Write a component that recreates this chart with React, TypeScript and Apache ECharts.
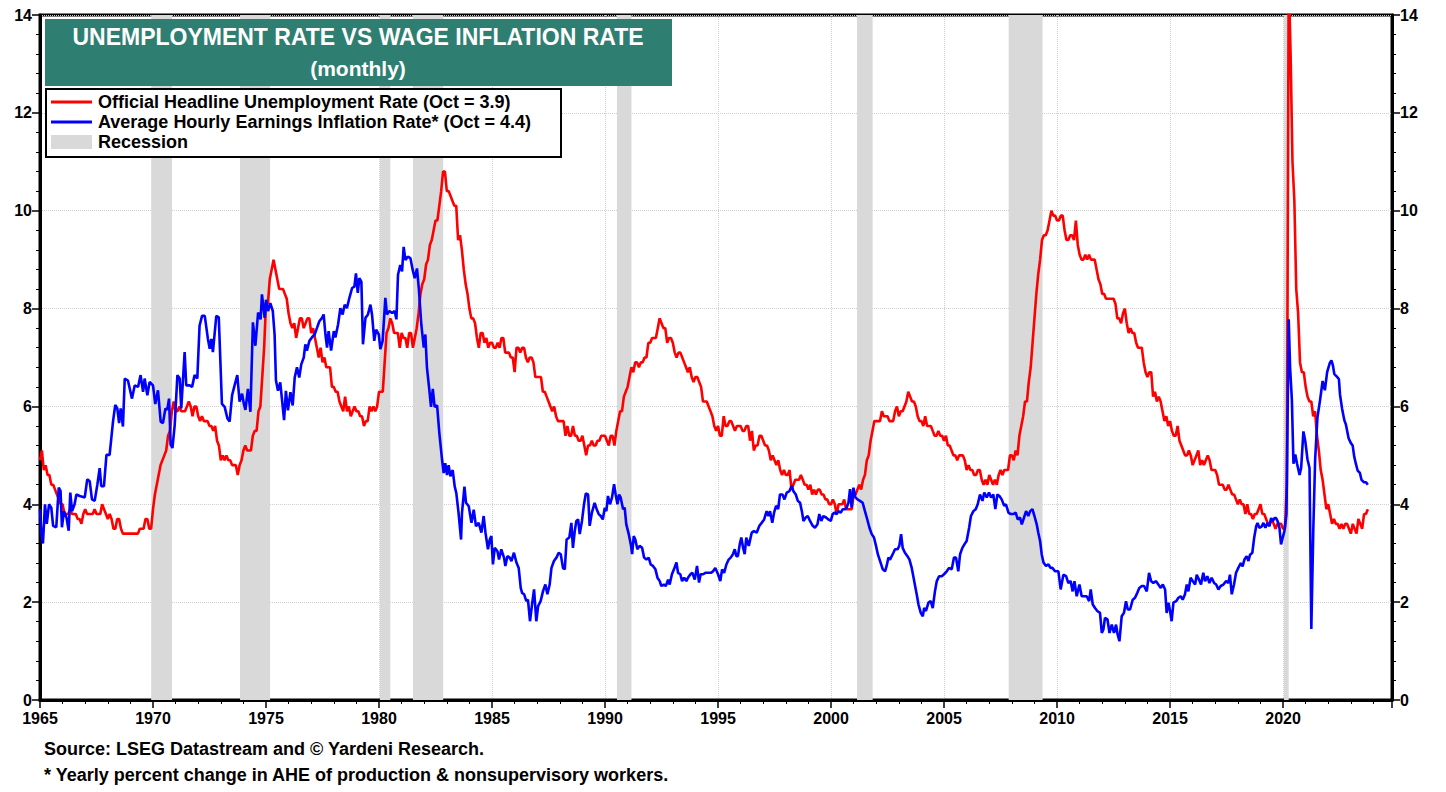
import React, { useEffect, useRef } from "react";
import * as echarts from "echarts";

// Official headline unemployment rate, monthly from Jan 1965 to Oct 2023 (%)
const UNEMP: number[] = [
  4.9, 5.1, 4.7, 4.8, 4.6, 4.6, 4.4, 4.4, 4.3, 4.2, 4.1, 4.0,
  4.0, 3.8, 3.8, 3.8, 3.9, 3.8, 3.8, 3.8, 3.7, 3.7, 3.6, 3.8,
  3.9, 3.8, 3.8, 3.8, 3.8, 3.9, 3.8, 3.8, 3.8, 4.0, 3.9, 3.8,
  3.7, 3.8, 3.7, 3.5, 3.5, 3.7, 3.7, 3.5, 3.4, 3.4, 3.4, 3.4,
  3.4, 3.4, 3.4, 3.4, 3.4, 3.5, 3.5, 3.5, 3.7, 3.7, 3.5, 3.5,
  3.9, 4.2, 4.4, 4.6, 4.8, 4.9, 5.0, 5.1, 5.4, 5.5, 5.9, 6.1,
  5.9, 5.9, 6.0, 5.9, 5.9, 5.9, 6.0, 6.1, 6.0, 5.8, 6.0, 6.0,
  5.8, 5.7, 5.8, 5.7, 5.7, 5.7, 5.6, 5.6, 5.5, 5.6, 5.3, 5.2,
  4.9, 5.0, 4.9, 5.0, 4.9, 4.9, 4.8, 4.8, 4.8, 4.6, 4.8, 4.9,
  5.1, 5.2, 5.1, 5.1, 5.1, 5.4, 5.5, 5.5, 5.9, 6.0, 6.6, 7.2,
  8.1, 8.1, 8.6, 8.8, 9.0, 8.8, 8.6, 8.4, 8.4, 8.4, 8.3, 8.2,
  7.9, 7.7, 7.6, 7.7, 7.4, 7.6, 7.8, 7.8, 7.6, 7.7, 7.8, 7.8,
  7.5, 7.6, 7.4, 7.2, 7.0, 7.2, 6.9, 7.0, 6.8, 6.8, 6.8, 6.4,
  6.4, 6.3, 6.3, 6.1, 6.0, 5.9, 6.2, 5.9, 6.0, 5.8, 5.9, 6.0,
  5.9, 5.9, 5.8, 5.8, 5.6, 5.7, 5.7, 6.0, 5.9, 6.0, 5.9, 6.0,
  6.3, 6.3, 6.3, 6.9, 7.5, 7.6, 7.8, 7.7, 7.5, 7.5, 7.5, 7.2,
  7.5, 7.4, 7.4, 7.2, 7.5, 7.5, 7.2, 7.4, 7.6, 7.9, 8.3, 8.5,
  8.6, 8.9, 9.0, 9.3, 9.4, 9.6, 9.8, 9.8, 10.1, 10.4, 10.8, 10.8,
  10.4, 10.4, 10.3, 10.2, 10.1, 10.1, 9.4, 9.5, 9.2, 8.8, 8.5, 8.3,
  8.0, 7.8, 7.8, 7.7, 7.4, 7.2, 7.5, 7.5, 7.3, 7.4, 7.2, 7.3,
  7.3, 7.2, 7.2, 7.3, 7.2, 7.4, 7.4, 7.1, 7.1, 7.1, 7.0, 7.0,
  6.7, 7.2, 7.2, 7.1, 7.2, 7.2, 7.0, 6.9, 7.0, 7.0, 6.9, 6.6,
  6.6, 6.6, 6.6, 6.3, 6.3, 6.2, 6.1, 6.0, 5.9, 6.0, 5.8, 5.7,
  5.7, 5.7, 5.7, 5.4, 5.6, 5.4, 5.4, 5.6, 5.4, 5.4, 5.3, 5.3,
  5.4, 5.2, 5.0, 5.2, 5.2, 5.3, 5.2, 5.2, 5.3, 5.3, 5.4, 5.4,
  5.4, 5.3, 5.2, 5.4, 5.4, 5.2, 5.5, 5.7, 5.9, 5.9, 6.2, 6.3,
  6.4, 6.6, 6.8, 6.7, 6.9, 6.9, 6.8, 6.9, 6.9, 7.0, 7.0, 7.3,
  7.3, 7.4, 7.4, 7.4, 7.6, 7.8, 7.7, 7.6, 7.6, 7.3, 7.4, 7.4,
  7.3, 7.1, 7.0, 7.1, 7.1, 7.0, 6.9, 6.8, 6.7, 6.8, 6.6, 6.5,
  6.6, 6.6, 6.5, 6.4, 6.1, 6.1, 6.1, 6.0, 5.9, 5.8, 5.6, 5.5,
  5.6, 5.4, 5.4, 5.8, 5.6, 5.6, 5.7, 5.7, 5.6, 5.5, 5.6, 5.6,
  5.6, 5.5, 5.5, 5.6, 5.6, 5.3, 5.5, 5.1, 5.2, 5.2, 5.4, 5.4,
  5.3, 5.2, 5.2, 5.1, 4.9, 5.0, 4.9, 4.8, 4.9, 4.7, 4.6, 4.7,
  4.6, 4.6, 4.7, 4.3, 4.4, 4.5, 4.5, 4.5, 4.6, 4.5, 4.4, 4.4,
  4.3, 4.4, 4.2, 4.3, 4.2, 4.3, 4.3, 4.2, 4.2, 4.1, 4.1, 4.0,
  4.0, 4.1, 4.0, 3.8, 4.0, 4.0, 4.0, 4.1, 3.9, 3.9, 3.9, 3.9,
  4.2, 4.2, 4.3, 4.4, 4.3, 4.5, 4.6, 4.9, 5.0, 5.3, 5.5, 5.7,
  5.7, 5.7, 5.7, 5.9, 5.8, 5.8, 5.8, 5.7, 5.7, 5.7, 5.9, 6.0,
  5.8, 5.9, 5.9, 6.0, 6.1, 6.3, 6.2, 6.1, 6.1, 6.0, 5.8, 5.7,
  5.7, 5.6, 5.8, 5.6, 5.6, 5.6, 5.5, 5.4, 5.4, 5.5, 5.4, 5.4,
  5.3, 5.4, 5.2, 5.2, 5.1, 5.0, 5.0, 4.9, 5.0, 5.0, 5.0, 4.9,
  4.7, 4.8, 4.7, 4.7, 4.6, 4.6, 4.7, 4.7, 4.5, 4.4, 4.5, 4.4,
  4.6, 4.5, 4.4, 4.5, 4.4, 4.6, 4.7, 4.6, 4.7, 4.7, 4.7, 5.0,
  5.0, 4.9, 5.1, 5.0, 5.4, 5.6, 5.8, 6.1, 6.1, 6.5, 6.8, 7.3,
  7.8, 8.3, 8.7, 9.0, 9.4, 9.5, 9.5, 9.6, 9.8, 10.0, 9.9, 9.9,
  9.8, 9.8, 9.9, 9.9, 9.6, 9.4, 9.4, 9.5, 9.5, 9.4, 9.8, 9.3,
  9.1, 9.0, 9.0, 9.1, 9.0, 9.1, 9.0, 9.0, 9.0, 8.8, 8.6, 8.5,
  8.3, 8.3, 8.2, 8.2, 8.2, 8.2, 8.2, 8.1, 7.8, 7.8, 7.7, 7.9,
  8.0, 7.7, 7.5, 7.6, 7.5, 7.5, 7.3, 7.2, 7.2, 7.2, 6.9, 6.7,
  6.6, 6.7, 6.7, 6.2, 6.3, 6.1, 6.2, 6.1, 5.9, 5.7, 5.8, 5.6,
  5.7, 5.5, 5.4, 5.4, 5.6, 5.3, 5.2, 5.1, 5.0, 5.0, 5.1, 5.0,
  4.8, 4.9, 5.0, 5.1, 4.8, 4.9, 4.8, 4.9, 5.0, 4.9, 4.7, 4.7,
  4.7, 4.6, 4.4, 4.4, 4.4, 4.3, 4.3, 4.4, 4.3, 4.2, 4.2, 4.1,
  4.0, 4.1, 4.0, 4.0, 3.8, 4.0, 3.8, 3.8, 3.7, 3.8, 3.8, 3.9,
  4.0, 3.8, 3.8, 3.7, 3.6, 3.6, 3.7, 3.6, 3.5, 3.6, 3.6, 3.6,
  3.5, 3.5, 4.4, 14.8, 13.2, 11.0, 10.2, 8.4, 7.9, 6.9, 6.7, 6.7,
  6.4, 6.2, 6.1, 6.1, 5.8, 5.9, 5.4, 5.1, 4.7, 4.5, 4.2, 3.9,
  4.0, 3.8, 3.6, 3.7, 3.6, 3.6, 3.5, 3.6, 3.5, 3.6, 3.6, 3.5,
  3.4, 3.6, 3.5, 3.4, 3.7, 3.6, 3.5, 3.8, 3.8, 3.9,
];
const UNEMP_START_YEAR = 1965;

// Average hourly earnings inflation rate (yearly % change), [decimal year, %]
const AHE_POINTS: [number, number][] = [
  [1965.0, 3.9], [1965.06, 3.4], [1965.13, 3.2], [1965.22, 4.0], [1965.3, 3.6], [1965.4, 4.0],
  [1965.5, 3.93], [1965.58, 3.56], [1965.72, 3.53], [1965.83, 4.34], [1965.91, 4.27], [1965.97, 3.53],
  [1966.06, 3.86], [1966.17, 3.73], [1966.27, 3.46], [1966.34, 4.24], [1966.42, 3.86], [1966.53, 4.0],
  [1966.61, 4.2], [1966.76, 4.17], [1966.98, 4.14], [1967.09, 4.51], [1967.2, 4.47], [1967.3, 4.1],
  [1967.42, 4.07], [1967.54, 4.41], [1967.64, 4.74], [1967.71, 4.37], [1967.83, 4.37], [1967.94, 5.01],
  [1968.08, 5.01], [1968.23, 5.69], [1968.33, 6.03], [1968.42, 5.96], [1968.5, 5.66], [1968.57, 5.96],
  [1968.67, 5.59], [1968.75, 6.57], [1968.89, 6.53], [1969.07, 6.16], [1969.19, 6.43], [1969.34, 6.4],
  [1969.45, 6.64], [1969.56, 6.3], [1969.63, 6.57], [1969.75, 6.23], [1969.85, 6.5], [1970.0, 6.43],
  [1970.1, 6.05], [1970.22, 6.33], [1970.34, 5.69], [1970.44, 5.66], [1970.55, 5.96], [1970.63, 5.93],
  [1970.71, 6.16], [1970.78, 5.22], [1970.86, 5.15], [1970.96, 5.62], [1971.08, 6.64], [1971.18, 6.57],
  [1971.25, 5.96], [1971.4, 7.11], [1971.47, 6.43], [1971.62, 6.43], [1971.73, 6.4], [1971.84, 6.64],
  [1971.96, 6.57], [1972.06, 7.65], [1972.17, 7.85], [1972.29, 7.85], [1972.43, 7.38], [1972.51, 7.18],
  [1972.58, 7.38], [1972.65, 7.11], [1972.8, 7.85], [1972.91, 7.82], [1973.05, 6.05], [1973.17, 5.99],
  [1973.29, 5.76], [1973.39, 5.69], [1973.5, 6.23], [1973.61, 6.43], [1973.73, 6.64], [1973.83, 6.1],
  [1973.94, 6.26], [1974.03, 6.03], [1974.09, 5.93], [1974.2, 6.36], [1974.31, 5.89], [1974.42, 7.72],
  [1974.53, 7.24], [1974.65, 7.92], [1974.76, 7.78], [1974.82, 8.29], [1974.94, 7.81], [1975.0, 8.18],
  [1975.09, 7.95], [1975.19, 8.11], [1975.3, 7.95], [1975.38, 7.47], [1975.44, 6.53], [1975.53, 6.32],
  [1975.63, 6.49], [1975.74, 5.99], [1975.8, 5.72], [1975.88, 6.32], [1975.97, 5.92], [1976.08, 6.29],
  [1976.18, 6.02], [1976.27, 6.59], [1976.37, 6.8], [1976.47, 6.59], [1976.56, 6.86], [1976.67, 7.0],
  [1976.74, 7.27], [1976.81, 7.14], [1976.92, 7.34], [1977.03, 7.41], [1977.15, 7.47], [1977.26, 7.61],
  [1977.36, 7.74], [1977.48, 7.81], [1977.55, 7.88], [1977.63, 7.47], [1977.7, 7.2], [1977.77, 7.54],
  [1977.88, 7.14], [1978.0, 7.54], [1978.07, 7.41], [1978.19, 7.68], [1978.29, 8.01], [1978.39, 7.88],
  [1978.48, 8.08], [1978.58, 8.01], [1978.69, 8.22], [1978.81, 8.42], [1978.91, 8.45], [1978.98, 8.72],
  [1979.06, 8.32], [1979.13, 8.62], [1979.22, 8.55], [1979.29, 7.27], [1979.4, 7.81], [1979.51, 7.88],
  [1979.62, 8.08], [1979.69, 7.88], [1979.79, 7.34], [1979.87, 7.57], [1979.99, 7.47], [1980.06, 7.17],
  [1980.16, 7.34], [1980.28, 8.22], [1980.35, 7.88], [1980.46, 7.95], [1980.58, 7.91], [1980.69, 7.95],
  [1980.77, 7.78], [1980.84, 8.69], [1980.94, 8.89], [1981.02, 8.76], [1981.09, 9.26], [1981.17, 8.99],
  [1981.27, 9.06], [1981.39, 9.03], [1981.49, 8.79], [1981.58, 8.62], [1981.68, 8.82], [1981.76, 8.42],
  [1981.87, 7.68], [1981.98, 7.2], [1982.05, 7.47], [1982.12, 6.8], [1982.23, 6.32], [1982.3, 5.99],
  [1982.38, 6.36], [1982.46, 5.99], [1982.57, 6.02], [1982.67, 5.45], [1982.79, 4.91], [1982.86, 4.64],
  [1982.93, 4.84], [1983.01, 4.6], [1983.08, 4.8], [1983.16, 4.57], [1983.26, 4.7], [1983.35, 4.36],
  [1983.42, 4.23], [1983.52, 3.82], [1983.63, 3.28], [1983.67, 3.82], [1983.78, 4.36], [1983.85, 4.03],
  [1983.97, 3.96], [1984.09, 3.62], [1984.19, 3.89], [1984.29, 3.55], [1984.41, 3.62], [1984.53, 3.42],
  [1984.63, 3.76], [1984.71, 3.42], [1984.82, 3.08], [1984.9, 3.28], [1984.97, 3.35], [1985.04, 2.77],
  [1985.12, 3.11], [1985.24, 3.04], [1985.31, 2.87], [1985.41, 3.08], [1985.53, 2.91], [1985.59, 2.74],
  [1985.68, 2.94], [1985.78, 2.91], [1985.86, 2.84], [1985.97, 3.01], [1986.08, 2.81], [1986.18, 2.7],
  [1986.27, 2.29], [1986.33, 2.19], [1986.42, 2.16], [1986.52, 2.02], [1986.59, 2.05], [1986.68, 1.61],
  [1986.77, 1.95], [1986.86, 2.26], [1986.96, 1.61], [1987.04, 1.92], [1987.15, 2.02], [1987.26, 2.23],
  [1987.36, 2.36], [1987.45, 2.16], [1987.55, 2.36], [1987.63, 2.7], [1987.74, 2.84], [1987.85, 2.91],
  [1987.95, 3.01], [1988.04, 2.98], [1988.14, 2.7], [1988.22, 2.67], [1988.3, 3.28], [1988.42, 3.32],
  [1988.51, 3.62], [1988.58, 3.11], [1988.66, 3.45], [1988.73, 3.66], [1988.81, 3.69], [1988.88, 3.39],
  [1988.98, 3.66], [1989.07, 4.0], [1989.15, 4.22], [1989.25, 4.2], [1989.32, 3.56], [1989.42, 3.83],
  [1989.54, 4.03], [1989.63, 3.9], [1989.72, 3.8], [1989.81, 3.76], [1989.9, 3.69], [1989.99, 3.93],
  [1990.06, 3.86], [1990.13, 4.17], [1990.22, 4.0], [1990.31, 4.14], [1990.4, 4.41], [1990.47, 4.2],
  [1990.55, 4.0], [1990.62, 4.2], [1990.69, 4.14], [1990.8, 3.9], [1990.87, 3.93], [1990.94, 3.59],
  [1991.05, 3.39], [1991.14, 3.18], [1991.2, 2.98], [1991.27, 3.35], [1991.34, 3.28], [1991.43, 3.08],
  [1991.53, 3.15], [1991.64, 3.11], [1991.73, 2.91], [1991.83, 2.87], [1991.93, 2.91], [1992.02, 2.77],
  [1992.12, 2.74], [1992.23, 2.67], [1992.32, 2.5], [1992.42, 2.43], [1992.49, 2.33], [1992.6, 2.36],
  [1992.69, 2.33], [1992.79, 2.46], [1992.86, 2.36], [1992.96, 2.57], [1993.05, 2.67], [1993.16, 2.81],
  [1993.23, 2.6], [1993.33, 2.57], [1993.41, 2.43], [1993.5, 2.5], [1993.6, 2.43], [1993.67, 2.5],
  [1993.78, 2.57], [1993.86, 2.6], [1993.97, 2.46], [1994.07, 2.74], [1994.16, 2.4], [1994.23, 2.57],
  [1994.34, 2.57], [1994.44, 2.6], [1994.56, 2.6], [1994.68, 2.6], [1994.78, 2.63], [1994.88, 2.7],
  [1995.0, 2.57], [1995.1, 2.43], [1995.18, 2.67], [1995.27, 2.6], [1995.37, 2.77], [1995.47, 2.87],
  [1995.56, 2.91], [1995.66, 2.98], [1995.74, 3.08], [1995.81, 2.94], [1995.88, 2.94], [1995.96, 3.18],
  [1996.03, 3.32], [1996.11, 3.11], [1996.18, 2.98], [1996.25, 3.32], [1996.36, 3.15], [1996.49, 3.42],
  [1996.59, 3.45], [1996.71, 3.42], [1996.83, 3.56], [1996.93, 3.62], [1997.04, 3.69], [1997.15, 3.86],
  [1997.23, 3.76], [1997.3, 3.86], [1997.4, 3.62], [1997.48, 3.83], [1997.57, 3.97], [1997.66, 3.9],
  [1997.74, 4.2], [1997.85, 4.2], [1997.94, 4.1], [1998.04, 4.24], [1998.16, 4.27], [1998.26, 4.38],
  [1998.33, 4.27], [1998.44, 4.2], [1998.53, 4.07], [1998.63, 4.03], [1998.72, 3.83], [1998.78, 3.66],
  [1998.88, 3.73], [1998.97, 3.76], [1999.07, 3.66], [1999.19, 3.56], [1999.29, 3.52], [1999.4, 3.59],
  [1999.48, 3.8], [1999.57, 3.66], [1999.66, 3.76], [1999.78, 3.73], [1999.88, 3.69], [1999.99, 3.66],
  [2000.07, 3.8], [2000.16, 3.83], [2000.25, 3.8], [2000.32, 3.86], [2000.43, 3.83], [2000.52, 3.9],
  [2000.62, 3.9], [2000.69, 3.93], [2000.77, 4.03], [2000.84, 4.31], [2000.91, 3.93], [2000.99, 4.34],
  [2001.08, 4.14], [2001.17, 4.1], [2001.28, 4.07], [2001.4, 4.03], [2001.5, 3.86], [2001.58, 3.73],
  [2001.7, 3.52], [2001.8, 3.39], [2001.9, 3.32], [2001.99, 3.15], [2002.07, 2.98], [2002.17, 2.84],
  [2002.29, 2.67], [2002.39, 2.63], [2002.46, 2.74], [2002.54, 2.91], [2002.61, 2.87], [2002.73, 2.98],
  [2002.83, 3.08], [2002.94, 3.08], [2003.02, 3.15], [2003.1, 3.39], [2003.17, 3.11], [2003.27, 3.01],
  [2003.38, 2.94], [2003.47, 2.87], [2003.57, 2.7], [2003.64, 2.53], [2003.72, 2.33], [2003.79, 2.16],
  [2003.87, 1.95], [2003.97, 1.78], [2004.06, 1.71], [2004.12, 1.88], [2004.2, 1.82], [2004.31, 1.99],
  [2004.41, 2.02], [2004.5, 1.88], [2004.6, 2.23], [2004.68, 2.43], [2004.78, 2.53], [2004.9, 2.53],
  [2005.0, 2.57], [2005.12, 2.63], [2005.22, 2.7], [2005.34, 2.67], [2005.44, 2.91], [2005.53, 2.91],
  [2005.63, 2.63], [2005.71, 2.98], [2005.81, 3.11], [2005.9, 3.18], [2006.0, 3.25], [2006.11, 3.52],
  [2006.19, 3.76], [2006.3, 3.86], [2006.4, 3.9], [2006.49, 4.0], [2006.59, 4.2], [2006.7, 4.07],
  [2006.78, 4.24], [2006.89, 4.14], [2006.99, 4.24], [2007.08, 4.14], [2007.18, 4.2], [2007.27, 3.9],
  [2007.36, 4.2], [2007.45, 4.17], [2007.55, 4.1], [2007.66, 3.97], [2007.74, 4.0], [2007.85, 3.83],
  [2007.95, 3.8], [2008.07, 3.8], [2008.17, 3.83], [2008.26, 3.69], [2008.36, 3.73], [2008.44, 3.59],
  [2008.54, 3.73], [2008.63, 3.86], [2008.73, 3.76], [2008.81, 3.86], [2008.91, 3.9], [2009.0, 3.76],
  [2009.1, 3.59], [2009.17, 3.42], [2009.25, 3.25], [2009.32, 2.98], [2009.4, 2.81], [2009.51, 2.74],
  [2009.62, 2.77], [2009.71, 2.7], [2009.8, 2.7], [2009.91, 2.63], [2010.06, 2.63], [2010.16, 2.26],
  [2010.28, 2.56], [2010.4, 2.53], [2010.5, 2.39], [2010.6, 2.43], [2010.69, 2.22], [2010.77, 2.43],
  [2010.87, 2.12], [2010.99, 2.36], [2011.09, 2.12], [2011.19, 2.12], [2011.31, 2.12], [2011.42, 2.02],
  [2011.49, 2.26], [2011.58, 1.95], [2011.68, 1.88], [2011.78, 1.82], [2011.9, 1.78], [2011.98, 1.37],
  [2012.05, 1.44], [2012.12, 1.68], [2012.23, 1.65], [2012.32, 1.37], [2012.42, 1.54], [2012.52, 1.37],
  [2012.61, 1.54], [2012.68, 1.34], [2012.76, 1.2], [2012.86, 1.71], [2012.96, 1.78], [2013.05, 2.02],
  [2013.13, 1.85], [2013.23, 1.85], [2013.35, 2.05], [2013.45, 2.09], [2013.55, 2.19], [2013.64, 2.29],
  [2013.75, 2.33], [2013.85, 2.33], [2013.97, 2.22], [2014.07, 2.6], [2014.16, 2.43], [2014.26, 2.39],
  [2014.38, 2.43], [2014.48, 2.36], [2014.59, 2.29], [2014.68, 2.36], [2014.78, 2.26], [2014.85, 1.78],
  [2014.93, 1.99], [2015.0, 1.82], [2015.07, 1.61], [2015.15, 1.99], [2015.27, 2.02], [2015.37, 2.09],
  [2015.47, 2.12], [2015.56, 2.05], [2015.66, 2.16], [2015.74, 2.36], [2015.81, 2.22], [2015.91, 2.5],
  [2016.0, 2.43], [2016.11, 2.36], [2016.18, 2.56], [2016.28, 2.46], [2016.37, 2.36], [2016.47, 2.6],
  [2016.55, 2.43], [2016.65, 2.53], [2016.74, 2.39], [2016.84, 2.5], [2016.95, 2.39], [2017.04, 2.36],
  [2017.14, 2.26], [2017.24, 2.33], [2017.36, 2.36], [2017.48, 2.43], [2017.58, 2.39], [2017.65, 2.56],
  [2017.73, 2.16], [2017.83, 2.36], [2017.92, 2.6], [2018.02, 2.7], [2018.13, 2.8], [2018.21, 2.73],
  [2018.29, 2.87], [2018.39, 2.94], [2018.47, 2.84], [2018.54, 2.97], [2018.64, 3.01], [2018.72, 3.31],
  [2018.81, 3.55], [2018.87, 3.62], [2018.95, 3.52], [2019.06, 3.55], [2019.13, 3.62], [2019.22, 3.52],
  [2019.31, 3.62], [2019.4, 3.55], [2019.47, 3.72], [2019.54, 3.65], [2019.62, 3.72], [2019.69, 3.72],
  [2019.76, 3.65], [2019.84, 3.52], [2019.91, 3.18], [2019.98, 3.31], [2020.06, 3.45], [2020.15, 3.79],
  [2020.25, 7.78], [2020.31, 6.8], [2020.39, 6.14], [2020.46, 4.83], [2020.54, 5.02], [2020.62, 4.83],
  [2020.73, 4.6], [2020.8, 4.74], [2020.9, 5.49], [2020.98, 5.3], [2021.08, 4.92], [2021.17, 4.74],
  [2021.25, 1.45], [2021.34, 3.52], [2021.42, 4.92], [2021.52, 5.77], [2021.64, 6.14], [2021.75, 6.52],
  [2021.85, 6.33], [2021.95, 6.7], [2022.07, 6.89], [2022.14, 6.94], [2022.2, 6.85], [2022.27, 6.66],
  [2022.38, 6.61], [2022.47, 6.56], [2022.52, 6.24], [2022.61, 5.96], [2022.71, 5.72], [2022.78, 5.63],
  [2022.9, 5.35], [2023.0, 5.25], [2023.08, 5.2], [2023.15, 4.97], [2023.22, 4.83], [2023.3, 4.69],
  [2023.4, 4.64], [2023.47, 4.5], [2023.58, 4.45], [2023.67, 4.45], [2023.75, 4.4],
];

// NBER recessions as [start, end] decimal years
const RECESSIONS: [number, number][] = [
  [1969.92, 1970.84], [1973.85, 1975.18], [1980.04, 1980.5], [1981.5, 1982.84],
  [1990.53, 1991.17], [2001.15, 2001.84], [2007.86, 2009.36], [2020.04, 2020.25],
];

const Y_TICKS = [0, 2, 4, 6, 8, 10, 12, 14];
const X_LABEL_YEARS = [1965, 1970, 1975, 1980, 1985, 1990, 1995, 2000, 2005, 2010, 2015, 2020];

const TITLE_LINE1 = "UNEMPLOYMENT RATE VS WAGE INFLATION RATE";
const TITLE_LINE2 = "(monthly)";
const LEGEND_RED = "Official Headline Unemployment Rate (Oct = 3.9)";
const LEGEND_BLUE = "Average Hourly Earnings Inflation Rate* (Oct = 4.4)";
const LEGEND_REC = "Recession";
const SOURCE_1 = "Source: LSEG Datastream and © Yardeni Research.";
const SOURCE_2 = "* Yearly percent change in AHE of production & nonsupervisory workers.";

const FONT = "'Liberation Sans', Arial, Helvetica, sans-serif";

export default function App() {
  const ref = useRef<HTMLDivElement>(null);

  useEffect(() => {
    if (!ref.current) return;
    const chart = echarts.init(ref.current, undefined, { renderer: "svg" });

    const unempData = UNEMP.map((v, i) => [UNEMP_START_YEAR + i / 12, v]);
    const aheData = AHE_POINTS.map(([x, y]) => [x, y]);

    const yMin = Y_TICKS[0];
    const yMax = Y_TICKS[Y_TICKS.length - 1];
    const yInterval = Y_TICKS[1] - Y_TICKS[0];

    const yAxisCommon = {
      type: "value" as const,
      min: yMin,
      max: yMax,
      interval: yInterval,
      axisLine: { show: true, lineStyle: { color: "#000", width: 3 } },
      axisTick: { show: true, length: 8, lineStyle: { color: "#000", width: 1.5 } },
      minorTick: { show: true, splitNumber: 5, length: 4, lineStyle: { color: "#000", width: 1 } },
      axisLabel: {
        color: "#000",
        fontWeight: "bold" as const,
        fontSize: 16,
        fontFamily: FONT,
        margin: 8,
      },
    };

    chart.setOption({
      animation: false,
      backgroundColor: "#fff",
      grid: {
        left: 40,
        right: 54,
        top: 15,
        bottom: 92,
        show: true,
        borderColor: "#000",
        borderWidth: 3,
        backgroundColor: "transparent",
      },
      xAxis: {
        type: "value",
        min: X_LABEL_YEARS[0],
        max: 2024.82,
        interval: 5,
        axisLine: { show: true, onZero: false, lineStyle: { color: "#000", width: 3 } },
        axisTick: { show: true, length: 8, lineStyle: { color: "#000", width: 1.5 } },
        minorTick: { show: true, splitNumber: 5, length: 4, lineStyle: { color: "#000", width: 1 } },
        splitLine: { show: true, lineStyle: { color: "#cfcfcf", type: "dotted", width: 1 } },
        axisLabel: {
          color: "#000",
          fontWeight: "bold",
          fontSize: 16,
          fontFamily: FONT,
          margin: 10,
          showMaxLabel: false,
          formatter: (v: number) => (X_LABEL_YEARS.includes(Math.round(v * 100) / 100) ? String(Math.round(v)) : ""),
        },
      },
      yAxis: [
        {
          ...yAxisCommon,
          position: "left",
          splitLine: { show: true, lineStyle: { color: "#cfcfcf", type: "dotted", width: 1 } },
        },
        {
          ...yAxisCommon,
          position: "right",
          splitLine: { show: false },
        },
      ],
      series: [
        {
          name: "Recession",
          type: "line",
          data: [],
          z: 1,
          silent: true,
          markArea: {
            silent: true,
            itemStyle: { color: "#d9d9d9" },
            data: RECESSIONS.map(([a, b]) => [{ xAxis: a }, { xAxis: b }]),
          },
        },
        {
          name: "Unemployment",
          type: "line",
          data: unempData,
          showSymbol: false,
          symbol: "none",
          clip: true,
          z: 3,
          silent: true,
          lineStyle: { color: "#ff0000", width: 2.6 },
        },
        {
          name: "AHE",
          type: "line",
          data: aheData,
          showSymbol: false,
          symbol: "none",
          clip: true,
          z: 4,
          silent: true,
          lineStyle: { color: "#0000ff", width: 2.6 },
        },
      ],
      graphic: [
        {
          type: "rect",
          z: 100,
          shape: { x: 45, y: 19, width: 627, height: 67 },
          style: { fill: "#2e7f72" },
        },
        {
          type: "text",
          z: 101,
          x: 358,
          y: 37,
          style: {
            text: TITLE_LINE1,
            fill: "#fff",
            font: `bold 23px ${FONT}`,
            align: "center",
            verticalAlign: "middle",
          },
        },
        {
          type: "text",
          z: 101,
          x: 358,
          y: 68,
          style: {
            text: TITLE_LINE2,
            fill: "#fff",
            font: `bold 21px ${FONT}`,
            align: "center",
            verticalAlign: "middle",
          },
        },
        {
          type: "rect",
          z: 100,
          shape: { x: 46, y: 89, width: 515, height: 68 },
          style: { fill: "#fff", stroke: "#000", lineWidth: 2 },
        },
        {
          type: "line",
          z: 101,
          shape: { x1: 51, y1: 102, x2: 92, y2: 102 },
          style: { stroke: "#ff0000", lineWidth: 3 },
        },
        {
          type: "line",
          z: 101,
          shape: { x1: 51, y1: 122, x2: 92, y2: 122 },
          style: { stroke: "#0000ff", lineWidth: 3 },
        },
        {
          type: "rect",
          z: 101,
          shape: { x: 51, y: 135, width: 41, height: 14 },
          style: { fill: "#d9d9d9" },
        },
        ...[LEGEND_RED, LEGEND_BLUE, LEGEND_REC].map((t, i) => ({
          type: "text",
          z: 101,
          x: 98,
          y: 102 + i * 20,
          style: {
            text: t,
            fill: "#000",
            font: `bold 18px ${FONT}`,
            align: "left",
            verticalAlign: "middle",
          },
        })),
        ...[SOURCE_1, SOURCE_2].map((t, i) => ({
          type: "text",
          z: 101,
          x: 44,
          y: 749 + i * 26,
          style: {
            text: t,
            fill: "#000",
            font: `bold 18px ${FONT}`,
            align: "left",
            verticalAlign: "middle",
          },
        })),
      ],
    });

    return () => {
      chart.dispose();
    };
  }, []);

  return (
    <div
      ref={ref}
      style={{ position: "fixed", left: 0, top: 0, width: 1446, height: 792, background: "#fff" }}
    />
  );
}
